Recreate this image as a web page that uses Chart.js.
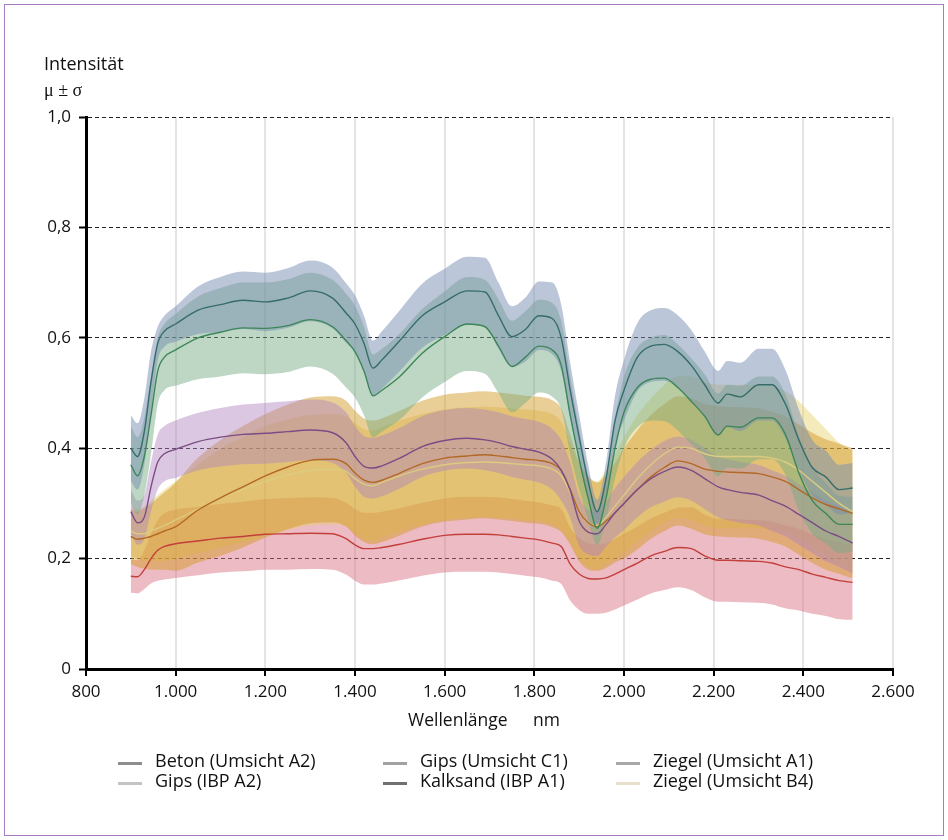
<!DOCTYPE html>
<html>
<head>
<meta charset="utf-8">
<script src="https://cdn.jsdelivr.net/npm/chart.js@4"></script>
<style>
  body{margin:0;background:#fff;}
  #wrap{position:relative;width:948px;height:840px;font-family:'Open Sans',sans-serif;color:#111;}
  .frame{position:absolute;left:4px;top:4px;width:938px;height:830px;border:1.5px solid #a97cc0;}
  canvas{position:absolute;left:0;top:0;}
  .t{position:absolute;white-space:nowrap;line-height:20px;}
  .lg{position:absolute;font-size:18px;line-height:20px;white-space:nowrap;}
  .sw{position:absolute;height:3px;width:24px;}
</style>
</head>
<body>
<div id="wrap">
  <div class="frame"></div>
  <canvas id="c" width="948" height="840"></canvas>
  <div class="t" style="left:44px;top:53px;font-size:18px;">Intensität</div>
  <div class="t" style="left:44px;top:80px;font-size:18px;font-family:'Liberation Serif',serif;">μ ± σ</div>
  <div class="t" style="left:408px;top:709px;font-size:17.5px;">Wellenlänge</div>
  <div class="t" style="left:533px;top:709px;font-size:17.5px;">nm</div>
  <div id="legend"></div>
</div>
<script>
// ---- data ----
const wavelength = [900,915,930,945,960,975,1000,1050,1100,1150,1200,1250,1300,1350,1380,1400,1420,1440,1460,1500,1550,1600,1650,1690,1720,1750,1780,1810,1840,1860,1880,1900,1920,1940,1960,1980,2000,2030,2060,2090,2120,2150,2180,2210,2230,2260,2300,2330,2360,2390,2420,2450,2480,2510];

const xTicks = [800,1000,1200,1400,1600,1800,2000,2200,2400,2600];
const yTicks = [0,0.2,0.4,0.6,0.8,1.0];

const seriesNames = ['Beton (Umsicht A2)','Gips (IBP A2)','Gips (Umsicht C1)','Kalksand (IBP A1)','Ziegel (Umsicht A1)','Ziegel (Umsicht B4)'];

const gipsC1Mean = [0.40,0.385,0.43,0.52,0.59,0.612,0.625,0.65,0.66,0.668,0.665,0.672,0.685,0.672,0.645,0.625,0.59,0.545,0.56,0.595,0.64,0.665,0.685,0.683,0.64,0.602,0.615,0.64,0.635,0.60,0.505,0.42,0.34,0.285,0.345,0.45,0.505,0.565,0.585,0.588,0.575,0.55,0.515,0.482,0.498,0.493,0.515,0.515,0.48,0.415,0.365,0.348,0.325,0.328];
const gipsC1Sd   = [0.06,0.06,0.06,0.055,0.03,0.028,0.032,0.043,0.05,0.052,0.053,0.054,0.055,0.055,0.054,0.052,0.05,0.05,0.052,0.055,0.058,0.06,0.062,0.062,0.06,0.055,0.058,0.062,0.065,0.06,0.05,0.04,0.03,0.022,0.03,0.045,0.055,0.062,0.065,0.066,0.066,0.064,0.06,0.058,0.06,0.062,0.065,0.065,0.062,0.055,0.05,0.048,0.045,0.045];

const gipsA2Mean = [0.37,0.35,0.385,0.46,0.54,0.565,0.578,0.60,0.61,0.618,0.617,0.622,0.633,0.62,0.595,0.575,0.54,0.495,0.505,0.53,0.572,0.602,0.625,0.62,0.585,0.548,0.565,0.585,0.578,0.55,0.46,0.38,0.31,0.255,0.31,0.40,0.465,0.51,0.525,0.527,0.51,0.485,0.458,0.424,0.44,0.438,0.455,0.455,0.425,0.355,0.305,0.282,0.262,0.262];
const gipsA2Sd   = [0.07,0.07,0.07,0.07,0.06,0.06,0.065,0.075,0.08,0.082,0.083,0.084,0.085,0.085,0.085,0.083,0.08,0.075,0.075,0.078,0.08,0.082,0.085,0.085,0.085,0.083,0.083,0.084,0.085,0.08,0.07,0.055,0.04,0.03,0.04,0.055,0.065,0.072,0.075,0.078,0.078,0.078,0.076,0.075,0.075,0.075,0.075,0.075,0.073,0.068,0.06,0.055,0.052,0.05];

const kalksandMean = [0.285,0.265,0.275,0.33,0.375,0.39,0.398,0.412,0.42,0.425,0.427,0.43,0.433,0.428,0.41,0.385,0.367,0.364,0.368,0.382,0.403,0.414,0.418,0.415,0.41,0.403,0.398,0.393,0.38,0.36,0.324,0.268,0.248,0.245,0.262,0.283,0.30,0.325,0.345,0.358,0.366,0.36,0.345,0.33,0.325,0.32,0.315,0.305,0.295,0.28,0.265,0.25,0.24,0.228];
const kalksandSd   = [0.04,0.04,0.04,0.045,0.05,0.05,0.052,0.052,0.053,0.054,0.055,0.055,0.055,0.055,0.055,0.055,0.055,0.055,0.055,0.055,0.055,0.055,0.055,0.055,0.055,0.055,0.055,0.055,0.055,0.055,0.05,0.045,0.04,0.04,0.04,0.045,0.048,0.05,0.052,0.055,0.055,0.055,0.055,0.055,0.055,0.055,0.055,0.055,0.055,0.055,0.055,0.055,0.055,0.055];

const ziegelA1Mean = [0.24,0.235,0.237,0.24,0.245,0.25,0.258,0.288,0.31,0.33,0.35,0.366,0.378,0.38,0.372,0.355,0.342,0.338,0.342,0.355,0.372,0.382,0.386,0.388,0.386,0.383,0.38,0.378,0.372,0.36,0.325,0.285,0.265,0.258,0.268,0.283,0.30,0.325,0.348,0.365,0.377,0.372,0.362,0.358,0.357,0.356,0.354,0.348,0.34,0.325,0.31,0.298,0.29,0.282];
const ziegelA1Sd   = [0.05,0.05,0.055,0.06,0.065,0.07,0.08,0.095,0.105,0.11,0.112,0.113,0.114,0.114,0.114,0.113,0.112,0.112,0.112,0.113,0.114,0.115,0.115,0.115,0.115,0.115,0.115,0.115,0.115,0.112,0.10,0.09,0.085,0.08,0.085,0.09,0.10,0.108,0.112,0.115,0.117,0.118,0.118,0.118,0.118,0.118,0.118,0.118,0.118,0.118,0.118,0.118,0.118,0.118];

const ziegelB4Mean = [0.25,0.245,0.245,0.25,0.255,0.26,0.27,0.29,0.31,0.325,0.34,0.352,0.36,0.362,0.358,0.345,0.335,0.332,0.338,0.35,0.362,0.37,0.374,0.375,0.374,0.372,0.37,0.368,0.362,0.35,0.32,0.285,0.265,0.26,0.275,0.295,0.315,0.345,0.37,0.39,0.402,0.40,0.39,0.385,0.385,0.385,0.385,0.382,0.375,0.36,0.34,0.32,0.30,0.285];
const ziegelB4Sd   = [0.045,0.045,0.05,0.055,0.06,0.065,0.07,0.08,0.09,0.095,0.10,0.10,0.10,0.10,0.10,0.10,0.10,0.10,0.10,0.10,0.10,0.10,0.10,0.10,0.10,0.10,0.10,0.10,0.10,0.098,0.09,0.085,0.08,0.08,0.085,0.095,0.105,0.115,0.12,0.125,0.128,0.13,0.13,0.13,0.13,0.13,0.13,0.13,0.128,0.125,0.12,0.115,0.11,0.11];

const betonMean = [0.168,0.167,0.18,0.20,0.215,0.222,0.227,0.232,0.237,0.24,0.244,0.245,0.246,0.245,0.236,0.225,0.218,0.218,0.22,0.226,0.235,0.242,0.244,0.244,0.243,0.24,0.237,0.234,0.228,0.222,0.19,0.172,0.164,0.163,0.165,0.172,0.18,0.192,0.205,0.213,0.22,0.218,0.205,0.197,0.197,0.196,0.195,0.192,0.185,0.18,0.172,0.166,0.16,0.157];
const betonSd   = [0.03,0.03,0.035,0.045,0.055,0.06,0.062,0.062,0.062,0.063,0.064,0.065,0.065,0.065,0.065,0.065,0.065,0.065,0.065,0.065,0.066,0.067,0.068,0.068,0.068,0.068,0.068,0.068,0.068,0.068,0.066,0.065,0.064,0.063,0.063,0.064,0.065,0.066,0.068,0.07,0.072,0.075,0.075,0.075,0.075,0.075,0.075,0.075,0.075,0.074,0.072,0.07,0.07,0.068];

// ---- styles (kept separate from data) ----
const styles = {
  'Beton (Umsicht A2)':  {line:'#c23f3c', band:'rgba(218,112,130,0.48)', legend:'#8e8e8e'},
  'Gips (IBP A2)':       {line:'#3d8658', band:'rgba(118,172,132,0.48)', legend:'#c4c4c4'},
  'Gips (Umsicht C1)':   {line:'#356d69', band:'rgba(120,142,178,0.50)', legend:'#a2a2a2'},
  'Kalksand (IBP A1)':   {line:'#7b4d84', band:'rgba(176,130,190,0.45)', legend:'#707070'},
  'Ziegel (Umsicht A1)': {line:'#b36826', band:'rgba(210,152,36,0.48)',  legend:'#a8a8a8'},
  'Ziegel (Umsicht B4)': {line:'#dccb80', band:'rgba(228,206,90,0.40)',  legend:'#e6e0cc'}
};

const seriesData = {
  'Beton (Umsicht A2)':  [betonMean, betonSd],
  'Gips (IBP A2)':       [gipsA2Mean, gipsA2Sd],
  'Gips (Umsicht C1)':   [gipsC1Mean, gipsC1Sd],
  'Kalksand (IBP A1)':   [kalksandMean, kalksandSd],
  'Ziegel (Umsicht A1)': [ziegelA1Mean, ziegelA1Sd],
  'Ziegel (Umsicht B4)': [ziegelB4Mean, ziegelB4Sd]
};

// drawing order of bands (first = bottom)
const drawOrder = ['Beton (Umsicht A2)','Ziegel (Umsicht B4)','Ziegel (Umsicht A1)','Kalksand (IBP A1)','Gips (IBP A2)','Gips (Umsicht C1)'];

const datasets = [];
drawOrder.forEach((name, k) => {
  const [mean, sd] = seriesData[name];
  const st = styles[name];
  const base = datasets.length;
  datasets.push({
    label: name + ' +σ',
    data: wavelength.map((w,i)=>({x:w, y:mean[i]+sd[i]})),
    borderWidth: 0, pointRadius: 0, fill: false, order: 100 - k
  });
  datasets.push({
    label: name + ' −σ',
    data: wavelength.map((w,i)=>({x:w, y:mean[i]-sd[i]})),
    borderWidth: 0, pointRadius: 0, backgroundColor: st.band,
    fill: {target: base, above: st.band, below: st.band}, order: 100 - k
  });
  datasets.push({
    label: name,
    data: wavelength.map((w,i)=>({x:w, y:mean[i]})),
    borderColor: st.line, borderWidth: 1.4, pointRadius: 0, fill: false, order: 10 - k
  });
});

function fmtX(v){
  if (v >= 1000) return Math.floor(v/1000) + '.' + String(v % 1000).padStart(3,'0');
  return String(v);
}
function fmtY(v){
  if (Math.abs(v) < 1e-9) return '0';
  return v.toFixed(1).replace('.', ',');
}

new Chart(document.getElementById('c'), {
  type: 'line',
  data: {datasets},
  options: {
    responsive: false,
    animation: false,
    devicePixelRatio: 1,
    layout: {padding: {left: 0, right: 55, top: 117, bottom: 0}},
    elements: {line: {cubicInterpolationMode: 'monotone'}},
    plugins: {legend: {display: false}, tooltip: {enabled: false}},
    scales: {
      x: {
        type: 'linear', min: 800, max: 2600,
        afterBuildTicks: s => { s.ticks = xTicks.map(v => ({value: v})); },
        afterFit: s => { s.height = 171; },
        grid: {
          color: c => (c.tick && c.tick.value === 800) ? 'rgba(0,0,0,0)' : '#e4e4e4',
          lineWidth: 2, tickColor: '#000', tickLength: 7, tickWidth: 2
        },
        border: {display: true, color: '#000', width: 3},
        ticks: {callback: v => fmtX(v), color: '#111', padding: 6, maxRotation: 0,
                font: {family: "'Open Sans'", size: 17}}
      },
      y: {
        type: 'linear', min: 0, max: 1,
        z: 1,
        afterBuildTicks: s => { s.ticks = yTicks.map(v => ({value: v})); },
        afterFit: s => { s.width = 86; },
        grid: {
          color: c => (c.tick && c.tick.value === 0) ? 'rgba(0,0,0,0)' : '#222',
          lineWidth: 1, tickColor: '#000', tickLength: 7, tickWidth: 2
        },
        border: {display: true, color: '#000', width: 3, dash: [4, 3]},
        ticks: {callback: v => fmtY(v), color: '#111', padding: 8,
                font: {family: "'Open Sans'", size: 17}}
      }
    }
  }
});

// ---- legend (3 columns x 2 rows) ----
const legendCols = [155, 420, 653];
const legendRows = [750, 770];
const lg = document.getElementById('legend');
seriesNames.forEach((name, i) => {
  const col = Math.floor(i / 2), row = i % 2;
  const sw = document.createElement('div');
  sw.className = 'sw';
  sw.style.left = (legendCols[col] - 37) + 'px';
  sw.style.top = (legendRows[row] + 12) + 'px';
  sw.style.background = styles[name].legend;
  lg.appendChild(sw);
  const t = document.createElement('div');
  t.className = 'lg';
  t.style.left = legendCols[col] + 'px';
  t.style.top = legendRows[row] + 'px';
  t.textContent = name;
  lg.appendChild(t);
});
</script>
</body>
</html>
